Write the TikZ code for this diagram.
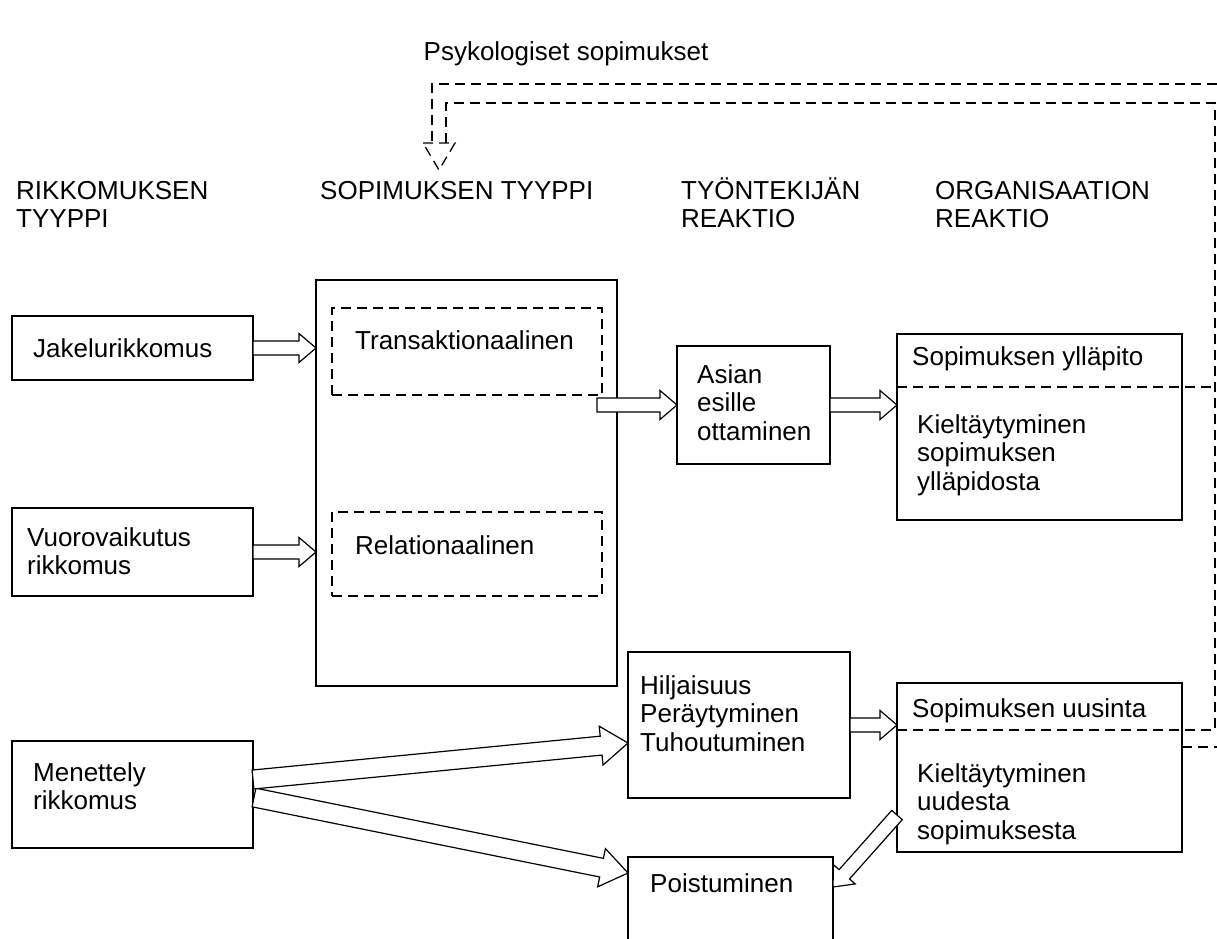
\documentclass[tikz,border=0pt]{standalone}
\usepackage{fontspec}
\setmainfont{Liberation Sans}
\usetikzlibrary{calc}

% hollow block arrow from #1 to tip #2
\def\aw{7pt}\def\ah{14.5pt}\def\al{17pt}
\newcommand\blockarr[2]{%
  \path (#1) coordinate (ba-s) (#2) coordinate (ba-t);
  \path ($(ba-t)!\al!(ba-s)$) coordinate (ba-h);
  \draw[blk] ($(ba-s)!\aw!90:(ba-t)$) -- ($(ba-h)!\aw!-90:(ba-s)$) -- ($(ba-h)!\ah!-90:(ba-s)$)
    -- (ba-t) -- ($(ba-h)!\ah!90:(ba-s)$) -- ($(ba-h)!\aw!90:(ba-s)$) -- ($(ba-s)!\aw!-90:(ba-t)$) -- cycle;}

\begin{document}
\begin{tikzpicture}[x=1pt,y=-1pt,
  box/.style={draw,line width=1.2pt,anchor=north west,inner sep=0pt,outer sep=0pt},
  dbox/.style={box,dash pattern=on 10pt off 6pt},
  lbl/.style={anchor=base west,inner sep=0pt,align=left,font={\fontsize{26}{28.5}\selectfont}},
  blk/.style={draw,fill=white,line width=1.2pt,line join=miter},
  fb/.style={line width=1.3pt,dash pattern=on 10pt off 6pt}]
\useasboundingbox (0,0) rectangle (1217,938);
% boxes
\node[box,minimum width=241pt,minimum height=64pt] (jakelu) at (12,316) {};
\node[box,minimum width=241pt,minimum height=88pt] (vuoro) at (12,508) {};
\node[box,minimum width=241pt,minimum height=107pt] (menet) at (12,741) {};
\node[box,minimum width=301pt,minimum height=406pt] (sopbox) at (316,280) {};
\node[dbox,minimum width=270pt,minimum height=87pt] (trans) at (332,308) {};
\node[dbox,minimum width=270pt,minimum height=84pt] (rel) at (332,512) {};
\node[box,minimum width=153pt,minimum height=118pt] (asian) at (677,346) {};
\node[box,minimum width=285pt,minimum height=186pt] (yllap) at (897,334) {};
\node[box,minimum width=222pt,minimum height=146pt] (hilj) at (628,652) {};
\node[box,minimum width=285pt,minimum height=169pt] (uusi) at (897,683) {};
\node[box,minimum width=205pt,minimum height=110pt] (poist) at (628,857) {};
% feedback loop
\coordinate (fbin) at (1215,103);
\coordinate (fbout) at (1228,84);
\coordinate (fbtip) at (439,170);
\draw[fb] ([yshift=-53pt]yllap.north west) coordinate (divA) -- (divA -| fbin);
\draw[fb] ([yshift=-47pt]uusi.north west) coordinate (divB) -- (divB -| fbin) -- (fbin)
  -- ([xshift=7pt]fbtip |- fbin) -- ([xshift=7pt,yshift=27pt]fbtip);
\draw[fb] ([yshift=-64pt]uusi.north east) coordinate (outB) -- (outB -| fbout) -- (fbout)
  -- ([xshift=-7pt]fbtip |- fbout) -- ([xshift=-7pt,yshift=27pt]fbtip);
\draw[fb] ([xshift=-16pt,yshift=27pt]fbtip) -- ([xshift=16pt,yshift=27pt]fbtip) -- (fbtip) -- cycle;
% arrows
\blockarr{jakelu.east}{jakelu.east -| sopbox.west}
\blockarr{vuoro.east}{vuoro.east -| sopbox.west}
\blockarr{$(trans.east |- asian.west)+(-5,0)$}{asian.west}
\blockarr{asian.east}{asian.east -| yllap.west}
\blockarr{hilj.east}{hilj.east -| uusi.west}
\blockarr{$(uusi.south west)+(0,-37)$}{$(poist.north east)+(0,30)$}
\begin{scope}
\def\aw{9.5pt}\def\ah{19.5pt}\def\al{27pt}
\blockarr{$(menet.east)+(1,3)$}{$(poist.north west)+(0,16)$}
\blockarr{$(menet.east)+(0,-15)$}{$(hilj.west)+(0,18)$}
\end{scope}
% texts (base = last line)
\node[lbl,anchor=base] (title) at (566,60) {Psykologiset sopimukset};
\node[lbl] (h1) at (16,227.5) {RIKKOMUKSEN\\TYYPPI};
\node[lbl] (h2) at (320,199) {SOPIMUKSEN TYYPPI};
\node[lbl] (h3) at (681,227.5) {TYÖNTEKIJÄN\\REAKTIO};
\node[lbl] (h4) at (935,227.5) {ORGANISAATION\\REAKTIO};
\node[lbl] (t1) at ([shift={(21,41)}]jakelu.north west) {Jakelurikkomus};
\node[lbl] (t2) at ([shift={(15,66.5)}]vuoro.north west) {Vuorovaikutus\\rikkomus};
\node[lbl] (t3) at ([shift={(21,68.5)}]menet.north west) {Menettely\\rikkomus};
\node[lbl] (t4) at ([shift={(23,41)}]trans.north west) {Transaktionaalinen};
\node[lbl] (t5) at ([shift={(23,42)}]rel.north west) {Relationaalinen};
\node[lbl] (t6) at ([shift={(20,94)}]asian.north west) {Asian\\esille\\ottaminen};
\node[lbl] (t7) at ([shift={(15,31)}]yllap.north west) {Sopimuksen ylläpito};
\node[lbl] (t8) at ([shift={(20,156)}]yllap.north west) {Kieltäytyminen\\sopimuksen\\ylläpidosta};
\node[lbl] (t9) at ([shift={(12,99)}]hilj.north west) {Hiljaisuus\\Peräytyminen\\Tuhoutuminen};
\node[lbl] (t10) at ([shift={(15,34)}]uusi.north west) {Sopimuksen uusinta};
\node[lbl] (t11) at ([shift={(20,156)}]uusi.north west) {Kieltäytyminen\\uudesta\\sopimuksesta};
\node[lbl] (t12) at ([shift={(22,35)}]poist.north west) {Poistuminen};
\end{tikzpicture}
\end{document}
